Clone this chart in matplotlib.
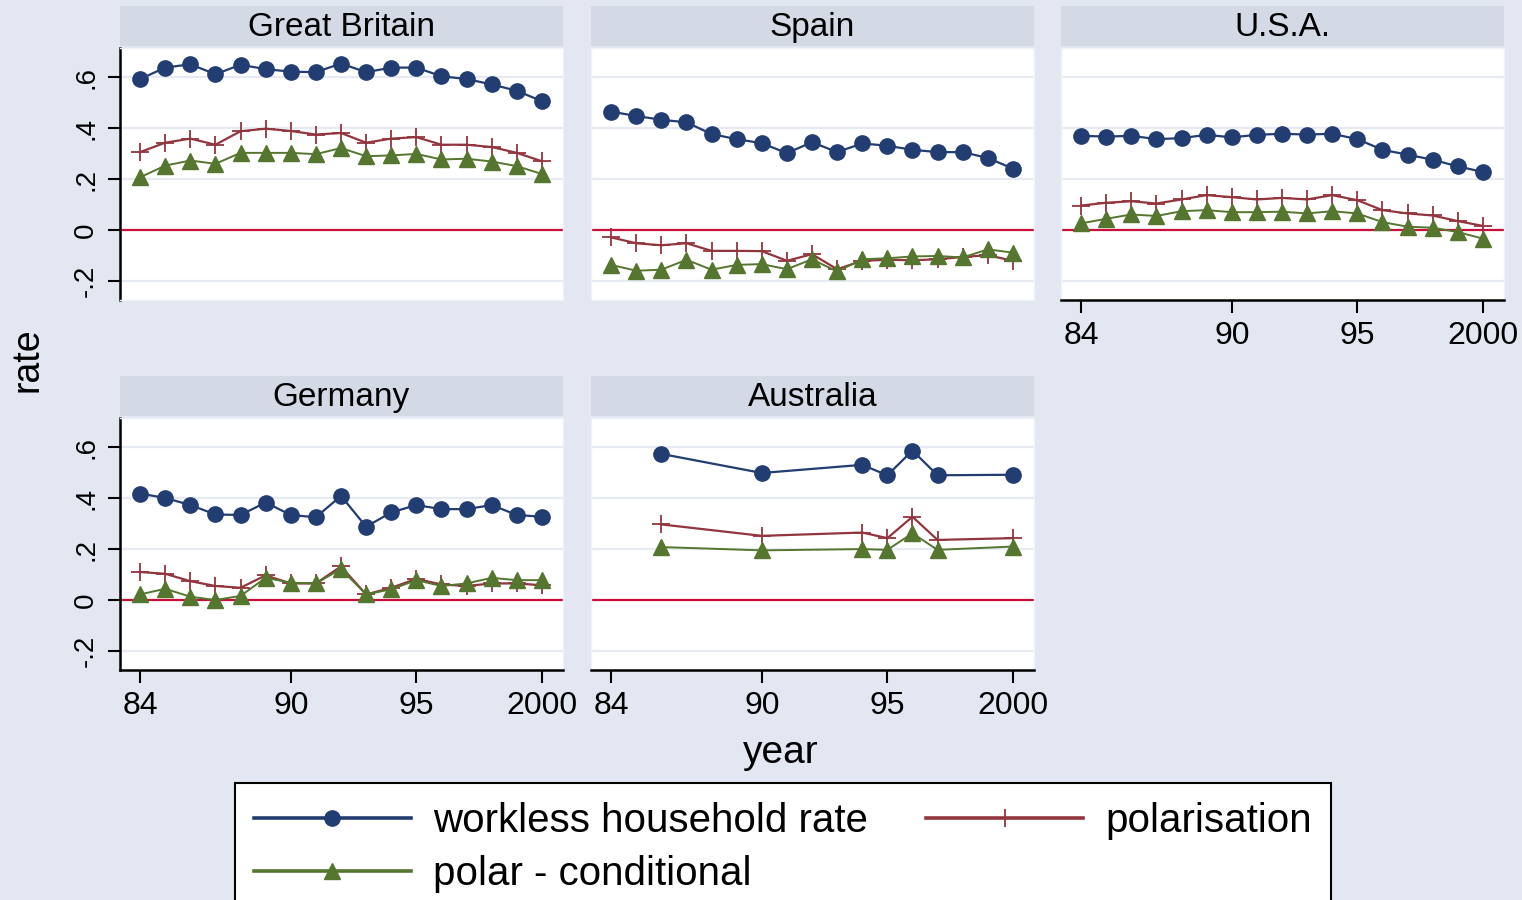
import matplotlib
matplotlib.use('Agg')
import matplotlib.pyplot as plt
from matplotlib.lines import Line2D

plt.rcParams['font.family'] = ['Liberation Sans', 'DejaVu Sans']

years = list(range(84, 101))
aus_years = [86, 90, 94, 95, 96, 97, 100]

gb_workless = [0.593, 0.638, 0.651, 0.612, 0.649, 0.632, 0.622, 0.620, 0.654,
               0.620, 0.638, 0.638, 0.604, 0.593, 0.572, 0.547, 0.506]
gb_polar = [0.306, 0.343, 0.359, 0.335, 0.388, 0.398, 0.389, 0.375, 0.381,
            0.343, 0.359, 0.365, 0.335, 0.335, 0.326, 0.303, 0.270]
gb_cond = [0.207, 0.253, 0.273, 0.260, 0.303, 0.303, 0.303, 0.298, 0.322,
           0.290, 0.293, 0.299, 0.277, 0.280, 0.269, 0.251, 0.220]

es_workless = [0.465, 0.448, 0.433, 0.423, 0.377, 0.357, 0.341, 0.302, 0.345,
               0.306, 0.340, 0.331, 0.315, 0.306, 0.306, 0.283, 0.241]
es_polar = [-0.029, -0.052, -0.060, -0.052, -0.082, -0.082, -0.083, -0.121, -0.095,
            -0.154, -0.121, -0.117, -0.119, -0.115, -0.106, -0.099, -0.121]
es_cond = [-0.137, -0.160, -0.156, -0.117, -0.156, -0.137, -0.134, -0.154, -0.115,
           -0.163, -0.115, -0.111, -0.104, -0.102, -0.108, -0.076, -0.089]

us_workless = [0.370, 0.367, 0.370, 0.357, 0.361, 0.374, 0.364, 0.374, 0.378,
               0.375, 0.378, 0.357, 0.315, 0.296, 0.276, 0.250, 0.228]
us_polar = [0.096, 0.107, 0.113, 0.104, 0.120, 0.137, 0.129, 0.120, 0.126,
            0.120, 0.137, 0.117, 0.078, 0.065, 0.057, 0.035, 0.016]
us_cond = [0.026, 0.044, 0.061, 0.055, 0.074, 0.078, 0.070, 0.070, 0.072,
           0.065, 0.074, 0.065, 0.031, 0.013, 0.009, -0.008, -0.034]

de_workless = [0.418, 0.401, 0.373, 0.336, 0.334, 0.383, 0.334, 0.325, 0.409,
               0.288, 0.344, 0.373, 0.357, 0.357, 0.373, 0.334, 0.327]
de_polar = [0.110, 0.103, 0.074, 0.055, 0.048, 0.097, 0.065, 0.065, 0.132,
            0.022, 0.048, 0.083, 0.061, 0.055, 0.065, 0.065, 0.058]
de_cond = [0.022, 0.044, 0.013, 0.000, 0.016, 0.087, 0.068, 0.065, 0.122,
           0.022, 0.042, 0.078, 0.055, 0.065, 0.087, 0.078, 0.078]

au_workless = [0.574, 0.499, 0.531, 0.490, 0.587, 0.490, 0.492]
au_polar = [0.297, 0.252, 0.265, 0.243, 0.327, 0.236, 0.243]
au_cond = [0.208, 0.195, 0.200, 0.197, 0.262, 0.197, 0.210]

countries = ['Great Britain', 'Spain', 'U.S.A.', 'Germany', 'Australia']
xticks = [84, 90, 95, 100]
xticklabels = ['84', '90', '95', '2000']
yticks = [-0.2, 0, 0.2, 0.4, 0.6]
yticklabels = ['-.2', '0', '.2', '.4', '.6']
series_labels = ['workless household rate', 'polarisation', 'polar - conditional']

panel_data = {
    'Great Britain': (years, gb_workless, gb_polar, gb_cond),
    'Spain': (years, es_workless, es_polar, es_cond),
    'U.S.A.': (years, us_workless, us_polar, us_cond),
    'Germany': (years, de_workless, de_polar, de_cond),
    'Australia': (aus_years, au_workless, au_polar, au_cond),
}

BG = '#E2E7F1'
STRIP = '#D3D9E5'
NAVY = '#223D72'
MAROON = '#93353F'
GREEN = '#55762F'
ZERO = '#C8103A'
GRID = '#E6EBF3'

W, H = 1522, 900
fig = plt.figure(figsize=(W / 100, H / 100), dpi=100, facecolor=BG)

lefts = [120, 591, 1061]
pw, ph = 443, 252
layout = {
    'Great Britain': (0, 48, True, False),
    'Spain': (1, 48, False, False),
    'U.S.A.': (2, 48, False, True),
    'Germany': (0, 418, True, True),
    'Australia': (1, 418, False, True),
}

handles = None
for name in countries:
    col, top, show_y, show_x = layout[name]
    left = lefts[col]
    ax = fig.add_axes([left / W, 1 - (top + ph) / H, pw / W, ph / H])
    ax.set_facecolor('white')
    sax = fig.add_axes([left / W, 1 - (top - 2) / H, pw / W, 40 / H])
    sax.set_facecolor(STRIP)
    sax.set_xticks([]); sax.set_yticks([])
    for s in sax.spines.values():
        s.set_visible(False)
    sax.text(0.5, 0.47, name, ha='center', va='center', fontsize=24,
             transform=sax.transAxes)

    x, w, p, c = panel_data[name]
    for yv in yticks:
        if yv != 0:
            ax.axhline(yv, color=GRID, lw=1.6, zorder=0)
    ax.axhline(0, color=ZERO, lw=1.6, zorder=1)
    l1, = ax.plot(x, w, color=NAVY, lw=1.6, marker='o', ms=11, zorder=3)
    l2, = ax.plot(x, p, color=MAROON, lw=1.6, marker='+', ms=12.5, mew=1.3, zorder=2)
    l3, = ax.plot(x, c, color=GREEN, lw=1.4, marker='^', ms=11.5, zorder=2)
    handles = (l1, l2, l3)

    ax.set_xlim(83.2, 100.84)
    ax.set_ylim(-0.275, 0.715)
    for s in ['top', 'right', 'left', 'bottom']:
        ax.spines[s].set_color('#EEF1F6')
        ax.spines[s].set_linewidth(1.0)
    if show_y:
        ax.spines['left'].set_color('black')
        ax.spines['left'].set_linewidth(1.8)
        ax.set_yticks(yticks)
        ax.set_yticklabels(yticklabels, rotation=90, va='center', fontsize=20)
        ax.tick_params(axis='y', length=9, width=1.5, pad=6)
    else:
        ax.set_yticks([])
    if show_x:
        ax.spines['bottom'].set_color('black')
        ax.spines['bottom'].set_linewidth(1.8)
        ax.set_xticks(xticks)
        ax.set_xticklabels(xticklabels, fontsize=23)
        ax.tick_params(axis='x', length=9, width=1.5, pad=6)
    else:
        ax.set_xticks([])

fig.text(28 / W, 1 - 360 / H, 'rate', rotation=90, ha='center', va='center', fontsize=27)
fig.text(781 / W, 1 - 753 / H, 'year', ha='center', va='center', fontsize=28)

leg = fig.legend([handles[0], handles[2], handles[1]],
                 [series_labels[0], series_labels[2], series_labels[1]],
                 ncol=2, loc='upper left',
                 bbox_to_anchor=(235 / W, 1 - 783 / H - 0.2, 1096 / W, 0.2),
                 mode='expand', frameon=True, fancybox=False, edgecolor='black',
                 framealpha=1, fontsize=29, handlelength=3.9, borderaxespad=0,
                 borderpad=0.47, labelspacing=0.38, handletextpad=0.55,
                 numpoints=1)
leg.get_frame().set_linewidth(1.5)
for h in leg.legend_handles:
    h.set_linewidth(2.6)

fig.savefig('out.png', dpi=100, facecolor=BG)
